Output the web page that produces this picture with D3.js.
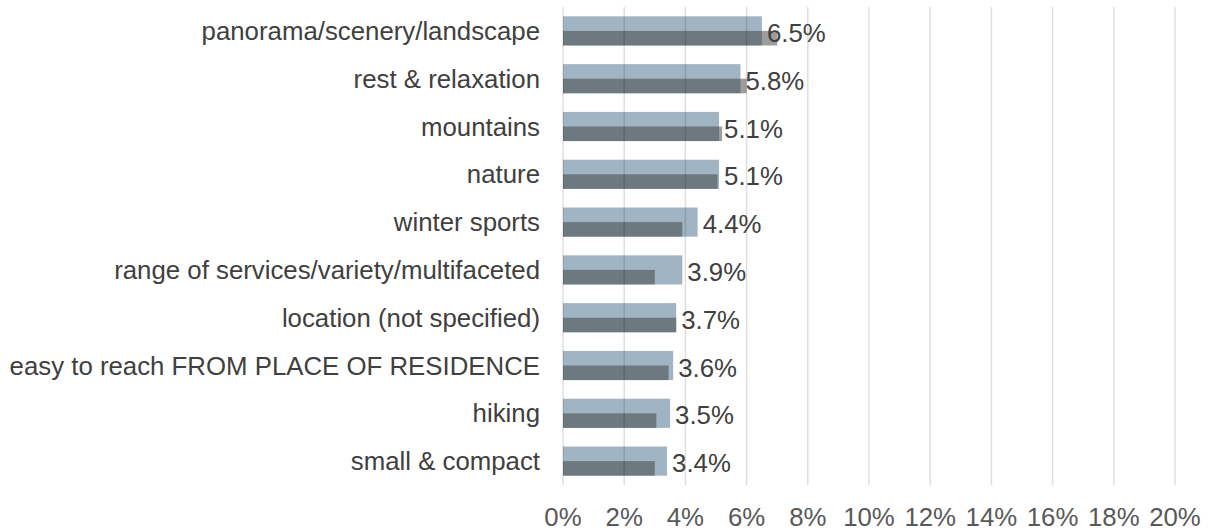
<!DOCTYPE html>
<html>
<head>
<meta charset="utf-8">
<script src="https://cdn.jsdelivr.net/npm/d3@7"></script>
<style>
  html, body { margin: 0; padding: 0; background: #fff; }
  svg { display: block; font-family: "Liberation Sans", Arial, sans-serif; }
</style>
</head>
<body>
<svg id="chart" width="1213" height="531"></svg>
<script>
// categories, top to bottom
const categories = [
  "panorama/scenery/landscape",
  "rest & relaxation",
  "mountains",
  "nature",
  "winter sports",
  "range of services/variety/multifaceted",
  "location (not specified)",
  "easy to reach FROM PLACE OF RESIDENCE",
  "hiking",
  "small & compact"
];
// light series (labelled) and dark series (comparison), in %
const lightValues = [6.5, 5.8, 5.1, 5.1, 4.4, 3.9, 3.7, 3.6, 3.5, 3.4];
const darkValues = [7.0, 6.0, 5.2, 5.05, 3.9, 3.0, 3.7, 3.45, 3.05, 3.0];
const xTicks = [0, 2, 4, 6, 8, 10, 12, 14, 16, 18, 20];

const svg = d3.select("#chart");
const fontSize = "25.8px";

const x = d3.scaleLinear().domain([0, 20]).range([563, 1175]);
const y = d3.scaleBand()
  .domain(categories)
  .range([7, 485])
  .paddingInner(0.39)
  .paddingOuter(0.195);

const rows = categories.map((c, i) => ({ cat: c, light: lightValues[i], dark: darkValues[i] }));

// light bars (full band height)
svg.append("g").selectAll("rect")
  .data(rows)
  .enter()
  .append("rect")
  .attr("x", x(0))
  .attr("y", d => y(d.cat))
  .attr("width", d => x(d.light) - x(0))
  .attr("height", y.bandwidth())
  .attr("fill", "#a1b4c3");

// dark bars, semi transparent, lower half
svg.append("g").selectAll("rect")
  .data(rows)
  .enter()
  .append("rect")
  .attr("x", x(0))
  .attr("y", d => y(d.cat) + y.bandwidth() / 2)
  .attr("width", d => x(d.dark) - x(0))
  .attr("height", y.bandwidth() / 2)
  .attr("fill", "rgba(60,60,60,0.5)");

// gridlines drawn over the bars
svg.append("g").selectAll("line")
  .data(xTicks)
  .enter()
  .append("line")
  .attr("x1", d => x(d)).attr("x2", d => x(d))
  .attr("y1", 7).attr("y2", 485)
  .attr("stroke", "rgba(0,0,0,0.13)")
  .attr("stroke-width", 1.5);

// x axis tick labels
svg.append("g").selectAll("text")
  .data(xTicks)
  .enter()
  .append("text")
  .attr("x", d => x(d))
  .attr("y", 526)
  .attr("text-anchor", "middle")
  .attr("fill", "#595959")
  .style("font-size", fontSize)
  .text(d => d + "%");

// category labels
svg.append("g").selectAll("text")
  .data(rows)
  .enter()
  .append("text")
  .attr("x", 540)
  .attr("y", d => y(d.cat) + y.bandwidth() / 2)
  .attr("dy", "0.35em")
  .attr("text-anchor", "end")
  .attr("fill", "#404040")
  .style("font-size", fontSize)
  .text(d => d.cat);

// value labels
svg.append("g").selectAll("text")
  .data(rows)
  .enter()
  .append("text")
  .attr("x", d => x(d.light) + 5)
  .attr("y", d => y(d.cat) + y.bandwidth() / 2 + 2)
  .attr("dy", "0.35em")
  .attr("fill", "#404040")
  .style("font-size", fontSize)
  .text(d => d3.format(".1f")(d.light) + "%");
</script>
</body>
</html>
